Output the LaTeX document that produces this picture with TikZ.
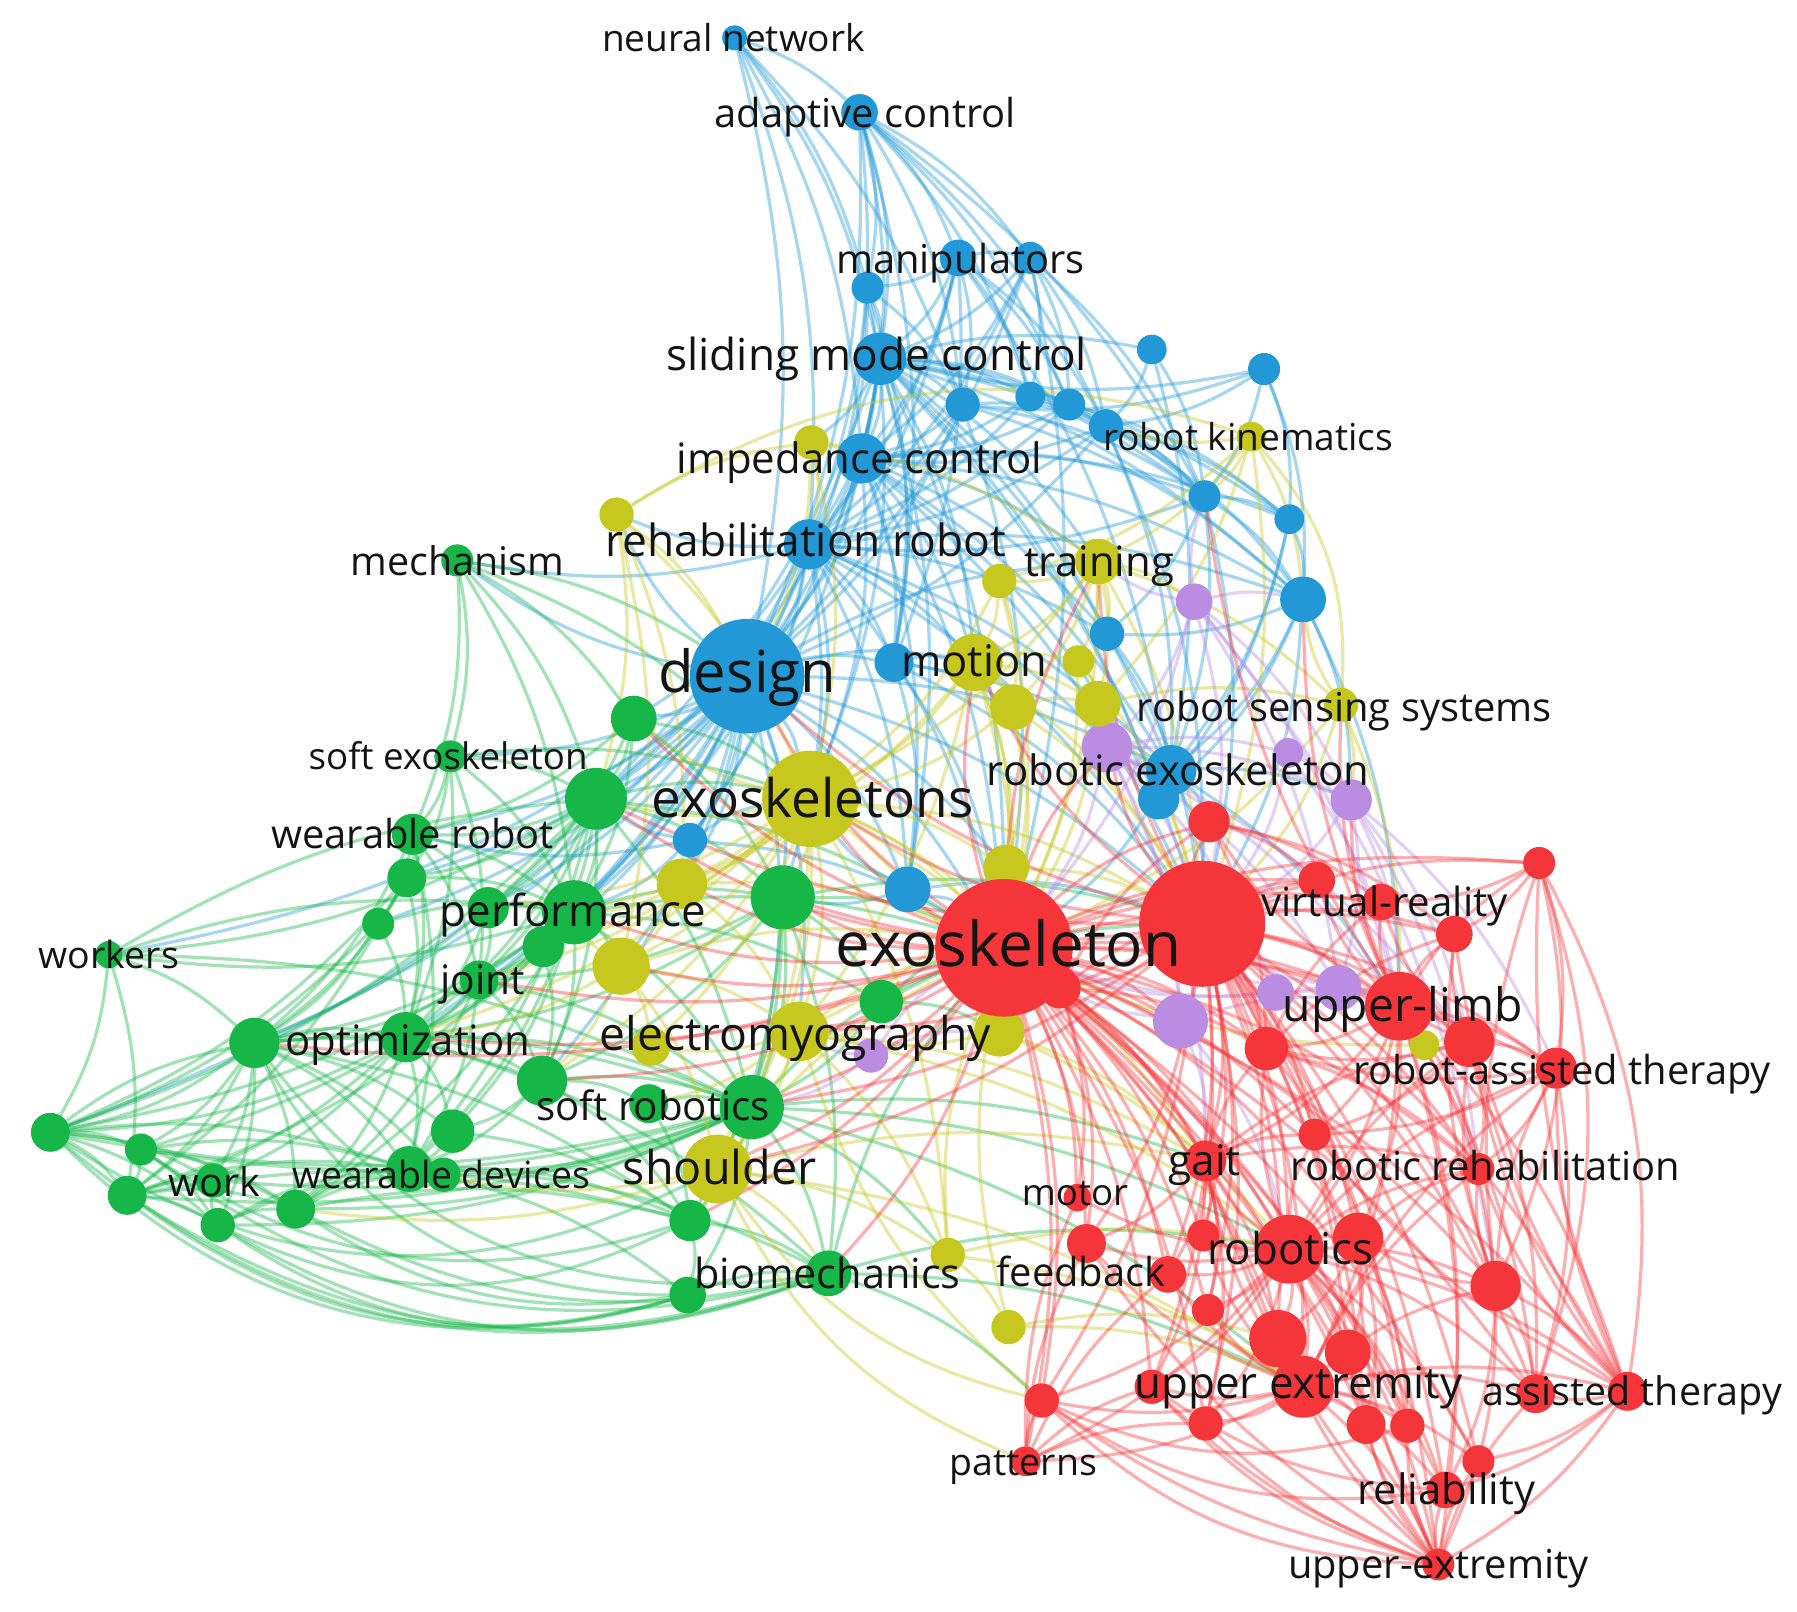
\documentclass[tikz,border=0pt]{standalone}
\usepackage{fontspec}
\setmainfont{Open Sans}
\pgfdeclarelayer{bg}
\pgfsetlayers{bg,main}
\definecolor{cB}{RGB}{34,152,214}
\definecolor{cR}{RGB}{244,54,58}
\definecolor{cG}{RGB}{22,182,72}
\definecolor{cY}{RGB}{198,200,32}
\definecolor{cP}{RGB}{186,140,226}
\definecolor{txtc}{RGB}{20,20,20}
\tikzset{
  dot/.style={circle,inner sep=0pt,outer sep=0pt,draw=none},
  lab/.style={inner sep=0pt,text=txtc,yshift=-0.4mm},
  ebase/.style={line width=0.8pt,draw opacity=0.4},
  eb/.style={ebase,draw=cB},
  er/.style={ebase,draw=cR},
  eg/.style={ebase,draw=cG},
  ey/.style={ebase,draw=cY},
  ep/.style={ebase,draw=cP}
}
\newcommand\mynode[5]{\node[dot,fill=#5,minimum size=#4*0.2mm] (#1) at (#2,#3) {};}
\newcommand\lbl[5]{\node[lab,font=\fontsize{#4pt}{#4pt}\selectfont,text height=#4pt*0.72,text depth=#4pt*0.24] (#1) at (#2,#3) {#5};}
\newcommand\fan[4][12]{\foreach \q in {#4}{\draw[#2] (#3) to[bend left=#1] (\q);}}
\newcommand\fanr[4][20]{\foreach \q in {#4}{\draw[#2] (#3) to[bend right=#1] (\q);}}
\begin{document}
\begin{tikzpicture}[x=0.1mm,y=-0.1mm]
\useasboundingbox (0,0) rectangle (1568,1406);
% ---------- nodes: blue
\mynode{b1}{641}{33}{11}{cB}
\mynode{b2}{750}{98}{16}{cB}
\mynode{b3}{836}{225}{16}{cB}
\mynode{b4}{899}{225}{14}{cB}
\mynode{b5}{757}{251}{14}{cB}
\mynode{b6}{768}{313}{23}{cB}
\mynode{b7}{1005}{305}{13}{cB}
\mynode{b8}{1103}{322}{14}{cB}
\mynode{b9}{840}{353}{15}{cB}
\mynode{b10}{899}{346}{13}{cB}
\mynode{b11}{933}{353}{14}{cB}
\mynode{b12}{965}{372}{15}{cB}
\mynode{b13}{752}{400}{22}{cB}
\mynode{b14}{1051}{433}{14}{cB}
\mynode{b15}{1125}{453}{13}{cB}
\mynode{b16}{706}{475}{22}{cB}
\mynode{b17}{1137}{523}{20}{cB}
\mynode{b18}{966}{553}{15}{cB}
\mynode{b19}{652}{590}{50}{cB}
\mynode{b20}{780}{578}{17}{cB}
\mynode{b21}{1022}{672}{22}{cB}
\mynode{b22}{1011}{697}{18}{cB}
\mynode{b23}{602}{733}{15}{cB}
\mynode{b24}{792}{776}{20}{cB}
% purple
\mynode{p1}{1042}{525}{16}{cP}
\mynode{p2}{966}{652}{22}{cP}
\mynode{p3}{1124}{657}{13}{cP}
\mynode{p4}{1179}{698}{18}{cP}
\mynode{p5}{1113}{866}{16}{cP}
\mynode{p6}{1168}{862}{20}{cP}
\mynode{p7}{1030}{891}{24}{cP}
\mynode{p8}{760}{921}{15}{cP}
% yellow
\mynode{y1}{708}{386}{15}{cY}
\mynode{y2}{538}{449}{15}{cY}
\mynode{y3}{1092}{381}{13}{cY}
\mynode{y4}{958}{490}{20}{cY}
\mynode{y5}{872}{507}{15}{cY}
\mynode{y6}{850}{578}{25}{cY}
\mynode{y7}{941}{577}{14}{cY}
\mynode{y8}{884}{617}{20}{cY}
\mynode{y9}{958}{614}{20}{cY}
\mynode{y10}{1170}{615}{15}{cY}
\mynode{y11}{707}{697}{42}{cY}
\mynode{y12}{595}{771}{22}{cY}
\mynode{y13}{878}{757}{20}{cY}
\mynode{y14}{542}{843}{25}{cY}
\mynode{y15}{872}{900}{22}{cY}
\mynode{y16}{697}{900}{26}{cY}
\mynode{y17}{568}{913}{17}{cY}
\mynode{y18}{626}{1020}{30}{cY}
\mynode{y19}{827}{1095}{15}{cY}
\mynode{y20}{880}{1158}{15}{cY}
\mynode{y21}{1243}{912}{13}{cY}
% green
\mynode{g1}{399}{489}{14}{cG}
\mynode{g2}{553}{627}{20}{cG}
\mynode{g3}{393}{660}{14}{cG}
\mynode{g4}{520}{697}{27}{cG}
\mynode{g5}{360}{728}{18}{cG}
\mynode{g6}{355}{766}{17}{cG}
\mynode{g7}{330}{806}{14}{cG}
\mynode{g8}{426}{792}{18}{cG}
\mynode{g9}{501}{796}{28}{cG}
\mynode{g10}{474}{826}{18}{cG}
\mynode{g11}{683}{783}{28}{cG}
\mynode{g12}{95}{833}{12}{cG}
\mynode{g13}{418}{855}{17}{cG}
\mynode{g14}{222}{910}{22}{cG}
\mynode{g15}{354}{905}{22}{cG}
\mynode{g16}{769}{874}{19}{cG}
\mynode{g17}{473}{943}{22}{cG}
\mynode{g18}{566}{963}{17}{cG}
\mynode{g19}{656}{966}{28}{cG}
\mynode{g20}{44}{988}{17}{cG}
\mynode{g21}{123}{1003}{14}{cG}
\mynode{g22}{111}{1043}{17}{cG}
\mynode{g23}{190}{1069}{15}{cG}
\mynode{g24}{258}{1055}{17}{cG}
\mynode{g25}{395}{987}{19}{cG}
\mynode{g26}{357}{1020}{20}{cG}
\mynode{g27}{387}{1025}{15}{cG}
\mynode{g28}{602}{1065}{18}{cG}
\mynode{g29}{600}{1130}{16}{cG}
\mynode{g30}{723}{1111}{20}{cG}
\mynode{g31}{186}{1030}{15}{cG}
% red
\mynode{r1}{1055}{717}{18}{cR}
\mynode{r2}{1343}{753}{14}{cR}
\mynode{r3}{1149}{768}{16}{cR}
\mynode{r4}{1205}{787}{16}{cR}
\mynode{r5}{1269}{815}{16}{cR}
\mynode{r6}{876}{827}{60}{cR}
\mynode{r7}{1049}{806}{55}{cR}
\mynode{r8}{925}{862}{18}{cR}
\mynode{r9}{1221}{878}{30}{cR}
\mynode{r10}{1105}{915}{19}{cR}
\mynode{r11}{1282}{909}{22}{cR}
\mynode{r12}{1358}{932}{18}{cR}
\mynode{r13}{1147}{990}{14}{cR}
\mynode{r14}{1052}{1013}{18}{cR}
\mynode{r15}{1290}{1020}{14}{cR}
\mynode{r16}{940}{1045}{12}{cR}
\mynode{r17}{948}{1085}{17}{cR}
\mynode{r18}{1019}{1112}{16}{cR}
\mynode{r19}{1050}{1078}{14}{cR}
\mynode{r20}{1125}{1090}{30}{cR}
\mynode{r21}{1185}{1080}{22}{cR}
\mynode{r22}{1054}{1143}{14}{cR}
\mynode{r23}{1305}{1122}{22}{cR}
\mynode{r24}{1115}{1168}{25}{cR}
\mynode{r25}{1176}{1180}{20}{cR}
\mynode{r26}{1137}{1210}{27}{cR}
\mynode{r27}{1420}{1214}{17}{cR}
\mynode{r28}{1340}{1216}{17}{cR}
\mynode{r29}{1192}{1243}{17}{cR}
\mynode{r30}{1228}{1244}{15}{cR}
\mynode{r31}{1052}{1242}{15}{cR}
\mynode{r32}{909}{1222}{15}{cR}
\mynode{r33}{895}{1275}{13}{cR}
\mynode{r34}{1290}{1275}{14}{cR}
\mynode{r35}{1261}{1300}{16}{cR}
\mynode{r36}{1255}{1365}{14}{cR}
\mynode{r37}{1005}{1210}{15}{cR}
% ---------- edges
\begin{pgfonlayer}{bg}
% blue
\fan{eb}{b1}{b2,b5,b6,b13,b16,b19,b9}
\fan{eb}{b2}{b3,b4,b5,b6,b9,b10,b11,b12,b13,b14,b16,b19,b20}
\fan{eb}{b3}{b4,b5,b6,b9,b10,b11,b12,b13,b16,b19,b20,b21}
\fan{eb}{b4}{b6,b10,b11,b12,b13,b14,b16,b19,r6}
\fan{eb}{b5}{b6,b9,b13,b16,b19,b20}
\fan{eb}{b6}{b7,b9,b10,b11,b12,b13,b14,b15,b16,b17,b18,b19,b20,b21,b22,b23,b24,y1,y4,y6,y11,r6,r7,g4}
\fan{eb}{b7}{b12,b14,b21}
\fan{eb}{b8}{b12,b14,b15,b17,b9,b6}
\fan{eb}{b9}{b12,b13,b16,b19,b14,b17,r6}
\fan{eb}{b10}{b12,b13,b16,b14}
\fan{eb}{b11}{b13,b16,b14,b15}
\fan{eb}{b12}{b13,b14,b15,b16,b17,b19,b21,r7}
\fan{eb}{b13}{b14,b15,b16,b17,b18,b19,b20,b21,b22,b24,y6,y4,y11,r6,r7,g4,g9}
\fan{eb}{b14}{b15,b17,b16,b18,b21,r7}
\fan{eb}{b15}{b17,b21,b22}
\fan{eb}{b16}{b17,b18,b19,b20,b21,b22,b23,b24,y11,y6,r6,r7,g4,g9,g11,g2,y2,g1}
\fan{eb}{b17}{b21,b22,b18,r7,r9,p4}
\fan{eb}{b18}{b21,r7}
\fan{eb}{b19}{g1,g2,g3,g4,g5,g6,g7,g8,g9,g10,g11,g13,g14,g15,g17,g19,g12,g20,y2,y11,y12,y14,y16,y6,b20,b21,b23,b24,r6,r7,y13,y4}
\fan{eb}{b20}{b21,y6,y8,r6,r7,b24}
\fan{eb}{b21}{b22,r7,r1,r6,p2,p4,r9}
\fan{eb}{b23}{g4,g9,y11,r6,g5}
\fan{eb}{b24}{r6,r7,g11,y11}
% green
\fan{eg}{g1}{g3,g4,g9,b19,y11,g2,g5}
\fan{eg}{g2}{g4,g9,g11,y11,g5,g8}
\fan{eg}{g3}{g4,g5,g9,g13,g15,g6,y11}
\fan{eg}{g4}{g5,g6,g8,g9,g10,g11,g13,g14,g15,g17,g19,g26,y11,r6,g12,g20}
\fan{eg}{g5}{g6,g8,g9,g13,g14,g15,g7,g26}
\fan{eg}{g6}{g9,g14,g15,g20,g22}
\fan{eg}{g7}{g9,g14,g15,g20}
\fan{eg}{g8}{g9,g13,g15}
\fan{eg}{g9}{g10,g11,g13,g14,g15,g17,g19,g20,g21,g22,g24,g26,g25,y14,r6,g12,g16}
\fan{eg}{g10}{g13,g15,g17}
\fan{eg}{g11}{g13,g15,g16,g17,g19,r6,r7,g30,g28,y18}
\fan{eg}{g12}{g14,g20,g9,g19,g22,g4}
\fan{eg}{g13}{g14,g15,g17,g19,g24,g26}
\fan{eg}{g14}{g15,g17,g19,g20,g21,g22,g23,g24,g26,g27,g28,g25,g31}
\fan{eg}{g15}{g17,g19,g20,g22,g24,g26,g25,g30,g31}
\fan{eg}{g16}{r6,g19,y15,r7}
\fan{eg}{g17}{g19,g25,g26,g28,g18}
\fan{eg}{g18}{g19,g28}
\fan{eg}{g19}{g20,g21,g22,g23,g24,g26,g27,g28,g29,g30,r6,r14,r20,r26,y19,g31}
\fan{eg}{g20}{g21,g22,g23,g24,g26,g14,g31}
\fan{eg}{g21}{g22,g23,g24,g26}
\fan{eg}{g22}{g23,g24,g26,g28}
\fan{eg}{g23}{g24,g26,g27,g31}
\fan{eg}{g24}{g26,g27,g28}
\fan{eg}{g25}{g26,g28}
\fan{eg}{g26}{g27,g28,g30,g29}
\fan{eg}{g28}{g29,g30}
\fan{eg}{g29}{g30}
\fan{eg}{g30}{r6,r20,r26,r32}
\fanr[30]{eg}{g20}{g29,g30,y18}
\fanr[25]{eg}{g22}{g29,g30}
\fanr[25]{eg}{g23}{g29,g30,g28}
\fanr[25]{eg}{g21}{g28,g30}
\fanr[20]{eg}{g24}{g29,g30}
\fanr[30]{eg}{g14}{g30,g29}
% yellow
\fan{ey}{y1}{b13,b16,y4,y11,b19}
\fan[25]{ey}{y2}{y3}
\fan{ey}{y2}{y11,b19,y14,y12,g4,y1}
\fan{ey}{y3}{y4,b12,b14,y9,b17,r7,y5}
\fan[22]{ey}{y3}{y10}
\fan{ey}{y4}{y5,y6,y7,y8,y9,y10,r7,r6,p1,b18,y11}
\fan{ey}{y5}{y6,y8,y11,r6}
\fan{ey}{y6}{y7,y8,y9,y11,y13,y15,r6,r7,y16,y12}
\fan{ey}{y7}{y9,r6,r7}
\fan{ey}{y8}{y9,y11,r6,r7,y13}
\fan{ey}{y9}{y10,r6,r7,p2}
\fan{ey}{y10}{r7,r9,p4,r6,b17}
\fan{ey}{y11}{y12,y13,y14,y15,y16,y17,y18,g2,g4,g8,g9,g10,g11,g13,g15,g17,g19,r6,r7,r8,r14,y19}
\fan{ey}{y12}{y14,g9,y16,r6}
\fan{ey}{y13}{r6,r7,y15,y16}
\fan{ey}{y14}{y16,y17,y18,g9,g17,g15,r6}
\fan{ey}{y15}{r6,r8,y16,r14,r20}
\fan{ey}{y16}{y17,y18,g19,g18,r6,r14,y19,r20}
\fan{ey}{y18}{g28,g30,g19,g26,g24,r6,r14,r26,y19}
\fan{ey}{y19}{r6,r20,r26,y20}
\fan{ey}{y20}{r26,r24,r6}
\fan{ey}{y21}{r9,r11,r6}
\fanr[20]{ey}{y18}{r33,r32}
\fanr[15]{ey}{y16}{r32}
% purple
\fan{ep}{p1}{p2,b17,y4,r7,r6,p4,p6,r9,b14}
\fan[15]{ep}{p1}{r23}
\fan{ep}{p2}{r6,r7,p3,p4,p5,p6,p7,y9,r9,r11,r14}
\fan{ep}{p3}{r7,p4,r9}
\fan{ep}{p4}{r7,r9,r11,p6,r12,r15}
\fan{ep}{p5}{r7,r9,r6}
\fan{ep}{p6}{r9,r7,r11,r6}
\fan{ep}{p7}{r6,r7,r14,r20,r9}
\fan{ep}{p8}{r6,y16,g19,y15}
% red
\fan{er}{r6}{r1,r2,r3,r4,r5,r8,r9,r10,r11,r12,r13,r14,r15,r16,r17,r18,r19,r20,r21,r22,r23,r24,r25,r26,r27,r28,r29,r30,r31,r32,r33,r34,r35,r36,r37}
\fan{er}{r6}{g2,g4,g9,g11,g13,g15,g17,g19,g28,g30,g14,y11,y12,y14,y16,y18,b19,y6,y4,p2,p7}
\fan{er}{r7}{r1,r2,r3,r4,r5,r8,r9,r10,r11,r12,r13,r14,r15,r17,r18,r19,r20,r21,r22,r23,r24,r25,r26,r27,r28,r29,r30,r31,r32,r34,r35,r36,r37}
\fan{er}{r7}{y11,b19,y6,y4,g11,g19,y16,y18,g4,p2}
\fan{er}{r9}{r2,r3,r4,r5,r10,r11,r12,r13,r15,r20,r21,r23,r26,r27,r28,r35,r36,r1,r14,b17,y10,p4,b14}
\fan{er}{r20}{r13,r14,r15,r16,r17,r18,r19,r21,r22,r23,r24,r25,r26,r27,r28,r29,r30,r31,r32,r33,r34,r35,r36,r37,r10,r11,r12}
\fan{er}{r26}{r27,r28,r29,r30,r31,r32,r33,r34,r35,r36,r14,r17,r18,r19,r22,r23,r37,r12,r15}
\fan{er}{r23}{r12,r15,r27,r28,r35,r36,r11,r21,r2,r5}
\fan{er}{r27}{r12,r15,r28,r34,r35,r36,r11,r2,r5,r13}
\fan{er}{r36}{r24,r25,r29,r30,r31,r32,r34,r35,r28,r21,r14,r17,r37}
\fan{er}{r33}{r32,r17,r16,r31,r37,r18}
\fan{er}{r2}{r4,r5,r12}
\fan[18]{er}{r2}{r23,r27,r28}
\fan{er}{r8}{r14,r16,r17,r10,r1,r3}
\fan{er}{r14}{r15,r17,r18,r19,r13,r10,r11,r22,r24,r37,r31}
\fan{er}{r11}{r12,r15,r13,r10,r5,r4,r28}
\fan{er}{r12}{r15,r28,r13,r10}
\fan{er}{r21}{r24,r25,r15,r13,r29,r30}
\fan{er}{r1}{r3,r4,r10,r5}
\fan{er}{r10}{r13,r15,r4,r5}
\fanr[20]{er}{r32}{r35,r36,r30}
\fanr[15]{er}{r37}{r36,r35}
\end{pgfonlayer}
% ---------- labels
\lbl{t1}{640}{33}{9.2}{neural network}
\lbl{t2}{755}{99}{9.9}{adaptive control}
\lbl{t3}{838}{226}{9.9}{manipulators}
\lbl{t4}{765}{310}{10.96}{sliding mode control}
\lbl{t5}{1089}{381}{9.2}{robot kinematics}
\lbl{t6}{750}{400}{10.4}{impedance control}
\lbl{t7}{703}{472}{11}{rehabilitation robot}
\lbl{t8}{959}{490}{10.4}{training}
\lbl{t9}{399}{490}{9.8}{mechanism}
\lbl{t10}{652}{588}{14.4}{design}
\lbl{t11}{850}{577}{10.8}{motion}
\lbl{t12}{1173}{617}{9.9}{robot sensing systems}
\lbl{t13}{1028}{673}{10.4}{robotic exoskeleton}
\lbl{t14}{391}{660}{9.1}{soft exoskeleton}
\lbl{t15}{709}{698}{13.2}{exoskeletons}
\lbl{t16}{360}{728}{9.9}{wearable robot}
\lbl{t17}{500}{795}{10.9}{performance}
\lbl{t18}{1208}{787}{10}{virtual-reality}
\lbl{t19}{880}{826}{15.4}{exoskeleton}
\lbl{t20}{95}{833}{9.3}{workers}
\lbl{t21}{421}{855}{10.1}{joint}
\lbl{t22}{1224}{878}{11.5}{upper-limb}
\lbl{t23}{1363}{934}{9.9}{robot-assisted therapy}
\lbl{t24}{356}{908}{10.4}{optimization}
\lbl{t25}{694}{903}{11.5}{electromyography}
\lbl{t26}{570}{965}{10}{soft robotics}
\lbl{t27}{187}{1032}{9.8}{work}
\lbl{t28}{385}{1025}{9.3}{wearable devices}
\lbl{t29}{628}{1020}{11.6}{shoulder}
\lbl{t30}{1051}{1013}{10.5}{gait}
\lbl{t31}{1296}{1018}{9.9}{robotic rehabilitation}
\lbl{t32}{938}{1040}{9.1}{motor}
\lbl{t33}{1126}{1090}{10.9}{robotics}
\lbl{t34}{943}{1110}{9.9}{feedback}
\lbl{t35}{722}{1112}{10.3}{biomechanics}
\lbl{t36}{1133}{1207}{10.9}{upper extremity}
\lbl{t37}{1424}{1214}{9.8}{assisted therapy}
\lbl{t38}{893}{1276}{9.3}{patterns}
\lbl{t39}{1262}{1300}{10.4}{reliability}
\lbl{t40}{1255}{1365}{9.9}{upper-extremity}
\end{tikzpicture}
\end{document}
